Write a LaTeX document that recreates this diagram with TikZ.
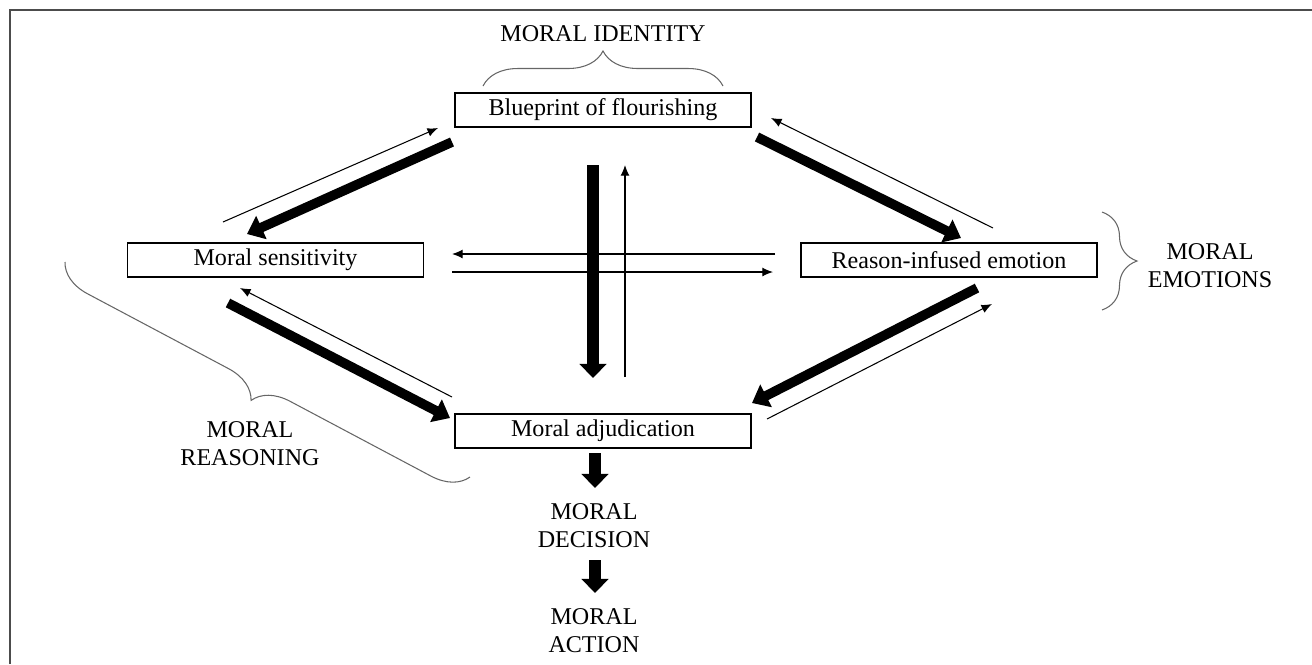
\documentclass[tikz,border=0pt]{standalone}
\usepackage{fontspec}
\setmainfont{Liberation Serif}
\usetikzlibrary{arrows.meta,decorations.pathreplacing}

\begin{document}
\begin{tikzpicture}[x=0.02cm, y=-0.02cm, line join=miter,
    font=\fontsize{13.7}{16}\selectfont,
    box/.style={draw, line width=0.7pt, minimum width=5.92cm, minimum height=0.68cm, inner sep=0pt},
    label/.style={align=center, inner sep=0pt},
    thinarr/.style={line width=0.6pt, -{Latex[length=6pt,width=5pt]}},
    heavyarr/.style={line width=5.5pt, -{Triangle[length=9pt,width=14pt]}},
    vheavyarr/.style={line width=7pt, -{Triangle[length=8pt,width=15pt]}},
    grouping/.style={gray!80!black, line width=0.6pt, decorate,
      decoration={brace, amplitude=0.7cm}}]

      \useasboundingbox (0,0) rectangle (1312,664);

      % Kader
      \draw[gray!60!black, line width=1.2pt] (10,664) -- (10,10) -- (1312,10);

      % Vakken
      \node[box] (blueprint) at (603,110) {Blueprint of flourishing};
      \node[box] (sens) at (275.5,260) {Moral sensitivity};
      \node[box] (emo) at (949,260) {Reason-infused emotion};
      \node[box] (adj) at (603,431) {Moral adjudication};

      % Labels
      \node[label] (identity) at (603,34) {MORAL IDENTITY};
      \node[label] (emotions) at (1210,266) {MORAL\\EMOTIONS};
      \node[label] (reasoning) at (250,444) {MORAL\\REASONING};
      \node[label] (decision) at (594,526) {MORAL\\DECISION};
      \node[label] (action) at (594,631) {MORAL\\ACTION};

      % Accolades
      \draw[grouping] (483,86) -- (723,86);
      \draw[grouping] (1102,212) -- (1102,310);
      \draw[grouping] (470,477) -- (65,262);

      % Eindpunten van de pijlen
      \coordinate (bs1) at (223,222);  \coordinate (bs2) at (438,128);
      \coordinate (bs3) at (452,142);  \coordinate (bs4) at (247,234);
      \coordinate (be1) at (757,137);  \coordinate (be2) at (961,238);
      \coordinate (be3) at (993,228);  \coordinate (be4) at (771,118);
      \coordinate (ba1) at (593,165);  \coordinate (ba2) at (593,378);
      \coordinate (ba3) at (625,377);  \coordinate (ba4) at (625,165);
      \coordinate (se1) at (775,254);  \coordinate (se2) at (452,254);
      \coordinate (se3) at (452,272);  \coordinate (se4) at (773,272);
      \coordinate (sa1) at (228,303);  \coordinate (sa2) at (450,418);
      \coordinate (sa3) at (452,397);  \coordinate (sa4) at (240,288);
      \coordinate (ea1) at (977,288);  \coordinate (ea2) at (752,403);
      \coordinate (ea3) at (767,419);  \coordinate (ea4) at (992,304);
      \coordinate (ad1) at (595,453);  \coordinate (ad2) at (595,488);
      \coordinate (da1) at (595,560);  \coordinate (da2) at (595,593);

      % Blueprint <-> sensitivity / emotion
      \draw[thinarr] (bs1) -- (bs2);
      \draw[heavyarr] (bs3) -- (bs4);
      \draw[heavyarr] (be1) -- (be2);
      \draw[thinarr] (be3) -- (be4);

      % Blueprint <-> adjudication
      \draw[vheavyarr] (ba1) -- (ba2);
      \draw[thinarr] (ba3) -- (ba4);

      % Sensitivity <-> emotion
      \draw[thinarr] (se1) -- (se2);
      \draw[thinarr] (se3) -- (se4);

      % Naar adjudication
      \draw[heavyarr] (sa1) -- (sa2);
      \draw[thinarr] (sa3) -- (sa4);
      \draw[heavyarr] (ea1) -- (ea2);
      \draw[thinarr] (ea3) -- (ea4);

      % Beslissing en handeling
      \draw[vheavyarr] (ad1) -- (ad2);
      \draw[vheavyarr] (da1) -- (da2);
    \end{tikzpicture}
\end{document}
